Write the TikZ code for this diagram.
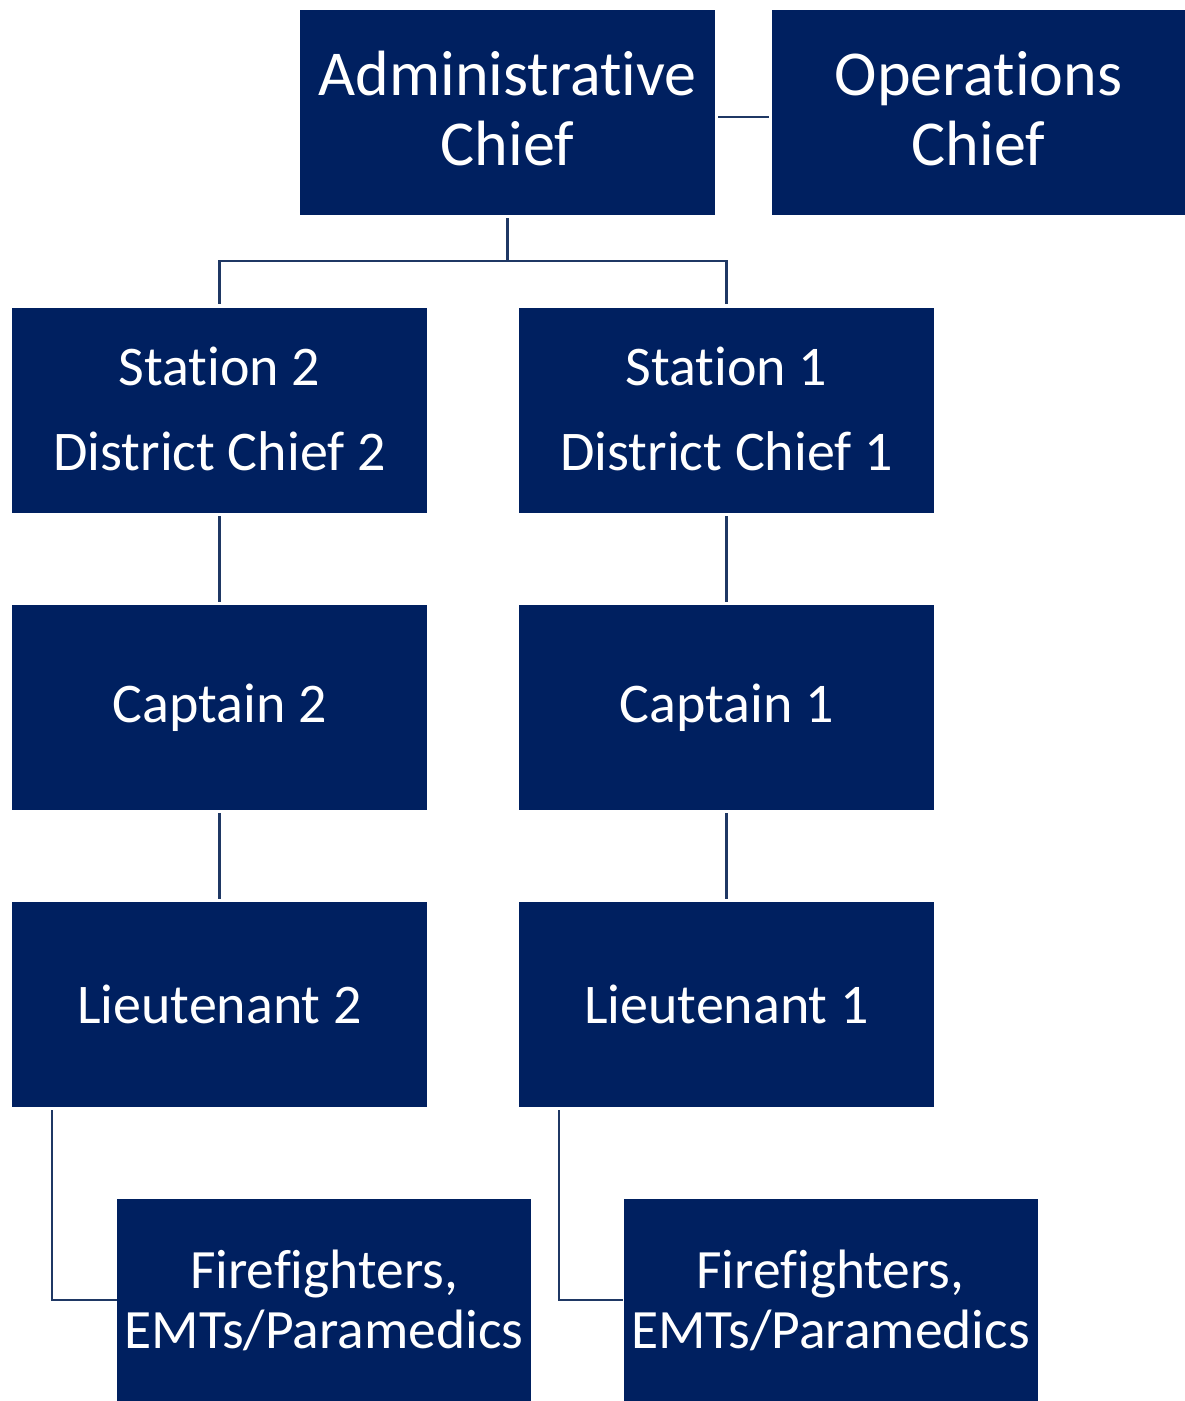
\documentclass[tikz,border=0pt]{standalone}
\usepackage{fontspec}
\setmainfont{Carlito}[Ligatures=NoCommon]
\definecolor{boxblue}{HTML}{002060}
\definecolor{lineblue}{HTML}{1F3864}
\newcommand{\dropfix}[1]{\rule[-#1]{0pt}{0pt}}
\begin{document}
\begin{tikzpicture}[x=1pt,y=-1pt,
  box/.style={fill=boxblue,text=white,inner sep=0pt,minimum width=415pt,minimum height=205pt,align=center},
  big/.style={font=\fontsize{64}{70}\selectfont},
  mid/.style={font=\fontsize{56}{85}\selectfont},
  one/.style={font=\fontsize{56}{66}\selectfont},
  ffs/.style={font=\fontsize{55.5}{60}\selectfont},
  conn/.style={draw=lineblue,line width=2.2pt,shorten >=3pt,shorten <=3pt}]
\useasboundingbox (0,0) rectangle (1185,1401);
\node[box,big] (adm) at (507.5,112.5) {Administrative\\Chief\dropfix{8pt}};
\node[box,big,minimum width=413pt] (ops) at (978.5,112.5) {Operations\\Chief\dropfix{8pt}};
\node[box,mid] (st2) at (219.5,410.5) {Station 2\\District Chief 2\dropfix{4pt}};
\node[box,mid] (st1) at (726.5,410.5) {Station 1\\District Chief 1\dropfix{4pt}};
\node[box,one] (cp2) at (219.5,707.5) {Captain 2};
\node[box,one] (cp1) at (726.5,707.5) {Captain 1};
\node[box,one] (lt2) at (219.5,1004.5) {Lieutenant 2};
\node[box,one] (lt1) at (726.5,1004.5) {Lieutenant 1};
\node[box,ffs,minimum width=414pt,minimum height=202pt] (ff2) at (324,1300) {Firefighters,\\EMTs/Paramedics};
\node[box,ffs,minimum width=414pt,minimum height=202pt] (ff1) at (830.5,1300) {Firefighters,\\EMTs/Paramedics};
\coordinate (j) at (507.5,261);
\draw[conn] ([yshift=-4.5pt]adm.east) -- ([yshift=-4.5pt]ops.west);
\draw[conn,shorten >=4pt] (adm.south) -- (adm.south |- j) -| (st2.north);
\draw[conn,shorten >=4pt] (adm.south) -- (adm.south |- j) -| (st1.north);
\draw[conn] (st2) -- (cp2);
\draw[conn] (st1) -- (cp1);
\draw[conn] (cp2) -- (lt2);
\draw[conn] (cp1) -- (lt1);
\draw[conn,shorten >=0pt] ([xshift=40pt]lt2.south west) |- (ff2.west);
\draw[conn,shorten >=0pt] ([xshift=40pt]lt1.south west) |- (ff1.west);
\end{tikzpicture}
\end{document}
